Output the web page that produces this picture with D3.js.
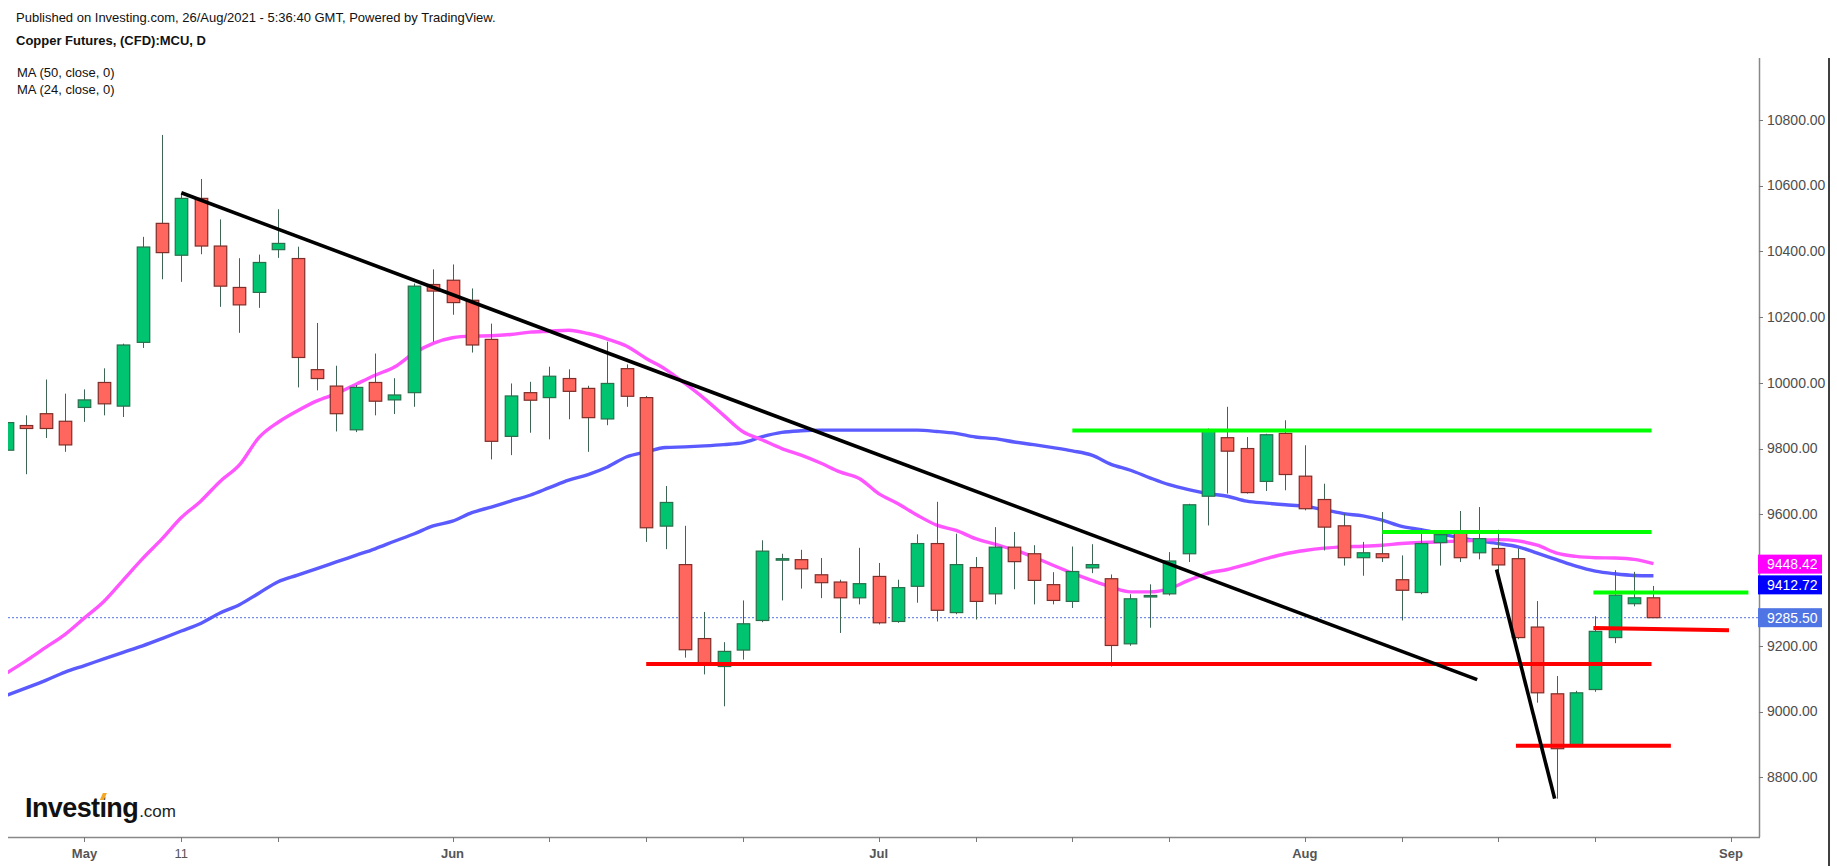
<!DOCTYPE html>
<html>
<head>
<meta charset="utf-8">
<script src="https://cdn.jsdelivr.net/npm/d3@7"></script>
<style>
  body { margin: 0; background: #fff; }
  text { font-family: "Liberation Sans", Arial, sans-serif; }
</style>
</head>
<body>
<div id="chart"></div>
<script>
// daily bars (LME days, 3 May / 31 May holidays skipped)
var dates = ["Apr27","Apr28","Apr29","Apr30","May4","May5","May6","May7","May10","May11",
  "May12","May13","May14","May17","May18","May19","May20","May21","May24","May25",
  "May26","May27","May28","Jun1","Jun2","Jun3","Jun4","Jun7","Jun8","Jun9",
  "Jun10","Jun11","Jun14","Jun15","Jun16","Jun17","Jun18","Jun21","Jun22","Jun23",
  "Jun24","Jun25","Jun28","Jun29","Jun30","Jul1","Jul2","Jul5","Jul6","Jul7",
  "Jul8","Jul9","Jul12","Jul13","Jul14","Jul15","Jul16","Jul19","Jul20","Jul21",
  "Jul22","Jul23","Jul26","Jul27","Jul28","Jul29","Jul30","Aug2","Aug3","Aug4",
  "Aug5","Aug6","Aug9","Aug10","Aug11","Aug12","Aug13","Aug16","Aug17","Aug18",
  "Aug19","Aug20","Aug23","Aug24","Aug25","Aug26"];

var opens = [9795,9870,9906,9883,9925,10001,9929,10123,10485,10388,
  10561,10416,10290,10275,10405,10378,10040,9990,9857,10001,
  9948,9970,10299,10312,10251,10132,9837,9970,9955,10013,
  9983,9890,10043,9955,9564,9447,9222,9137,9187,9277,
  9461,9462,9416,9394,9346,9411,9274,9381,9511,9301,
  9438,9358,9500,9480,9386,9335,9437,9404,9206,9350,
  9358,9480,9655,9833,9800,9700,9846,9716,9645,9565,
  9468,9480,9401,9362,9514,9544,9483,9496,9465,9257,
  9054,8897,9067,9225,9328,9346];

var highs = [9890,9901,10010,9967,9980,10044,10119,10444,10754,10576,
  10620,10497,10379,10390,10528,10414,10182,10052,9993,10089,
  10014,10302,10345,10360,10287,10180,9998,10003,10049,10041,
  9991,10125,10056,9960,9686,9565,9303,9211,9338,9521,
  9480,9492,9467,9401,9498,9452,9401,9539,9638,9541,
  9470,9561,9546,9506,9424,9502,9509,9417,9357,9387,
  9485,9632,9861,9927,9835,9845,9886,9810,9693,9602,
  9516,9607,9475,9556,9551,9610,9622,9553,9496,9336,
  9108,9063,9290,9430,9425,9382];

var lows = [9760,9722,9832,9790,9881,9901,9896,10106,10315,10307,
  10391,10231,10152,10228,10380,9986,9977,9852,9850,9901,
  9905,9927,10125,10207,10092,9767,9780,9848,9828,9889,
  9790,9871,9927,9516,9494,9164,9113,9016,9158,9272,
  9338,9374,9345,9239,9326,9265,9270,9331,9274,9296,
  9280,9326,9372,9326,9326,9315,9421,9137,9200,9255,
  9353,9455,9566,9663,9663,9671,9673,9612,9490,9444,
  9413,9455,9277,9357,9444,9455,9463,9426,9220,9027,
  8735,8892,9060,9208,9320,9285];

var closes = [9879,9861,9861,9811,9948,9936,10115,10413,10396,10561,
  10416,10294,10237,10366,10424,10077,10013,9906,9986,9944,
  9963,10294,10279,10244,10115,9822,9960,9947,10020,9974,
  9894,9998,9959,9559,9636,9188,9145,9183,9267,9488,
  9465,9434,9392,9346,9389,9270,9377,9511,9308,9447,
  9335,9500,9456,9399,9338,9426,9447,9201,9343,9353,
  9458,9629,9854,9792,9666,9842,9721,9617,9561,9468,
  9483,9468,9369,9511,9538,9468,9526,9446,9225,9057,
  8887,9057,9244,9354,9346,9285.5];

// moving averages
var ma50 = [9050,9072,9095,9120,9140,9160,9180,9200,9222,9245,
  9268,9300,9325,9360,9395,9415,9435,9455,9475,9495,
  9518,9540,9565,9579,9605,9622,9640,9658,9681,9704,
  9721,9744,9775,9790,9803,9805,9808,9812,9818,9836,
  9849,9854,9856,9856,9856,9856,9856,9856,9852,9846,
  9835,9830,9820,9812,9803,9793,9780,9752,9734,9711,
  9690,9675,9663,9655,9640,9634,9629,9624,9614,9602,
  9595,9582,9563,9553,9541,9528,9519,9511,9501,9482,
  9462,9442,9427,9419,9414,9413];

var ma24 = [9118,9155,9195,9235,9285,9335,9400,9465,9525,9590,
  9640,9700,9750,9833,9880,9915,9945,9967,9995,10023,
  10048,10090,10120,10137,10142,10143,10147,10154,10157,10160,
  10150,10133,10111,10074,10041,9998,9952,9901,9851,9826,
  9800,9780,9756,9729,9709,9663,9632,9597,9567,9551,
  9526,9509,9492,9470,9445,9421,9399,9379,9364,9364,
  9374,9399,9421,9432,9448,9465,9480,9490,9497,9501,
  9503,9506,9511,9514,9516,9519,9521,9523,9519,9506,
  9482,9472,9468,9467,9463,9450];

// hand drawn lines: [bar1, price1, bar2, price2]
var blackLines = [[9, 10578, 75.9, 9097], [76.9, 9432, 79.9, 8735]];
var greenLines = [[55, 9855, 84.9, 9855], [71, 9546, 84.9, 9546], [81.9, 9362, 89.9, 9362]];
var redLines = [[33, 9145, 84.9, 9145], [77.9, 8896, 85.9, 8896], [81.9, 9254, 88.9, 9247]];

// axis ticks
var priceTicks = [8800, 9000, 9200, 9400, 9600, 9800, 10000, 10200, 10400, 10600, 10800];
var timeTicks = [4, 9, 14, 23, 28, 33, 38, 45, 50, 55, 60, 67, 72, 77, 82, 89];
var timeLabels = {4: "May", 9: "11", 23: "Jun", 45: "Jul", 67: "Aug", 89: "Sep"};

var lastLabels = [
  {value: 9448.42, color: "#ff00ff", shift: 0},
  {value: 9412.72, color: "#0000ff", shift: 9},
  {value: 9285.50, color: "#4f74e3", shift: 0}
];

var svgWidth = 1837;
var svgHeight = 866;

var plot = { left: 8, right: 1759, top: 58, bottom: 837 };

var svg = d3.select("#chart")
  .append("svg")
  .attr("width", svgWidth)
  .attr("height", svgHeight)
  .style("display", "block");

svg.append("rect")
  .attr("width", svgWidth)
  .attr("height", svgHeight)
  .attr("fill", "#fff");

var xScale = d3.scaleLinear()
  .domain([0, 89])
  .range([7, 7 + 19.37 * 89]);

var yScale = d3.scaleLinear()
  .domain([8800, 10800])
  .range([777.3, 119.8]);

svg.append("clipPath")
  .attr("id", "plotClip")
  .append("rect")
  .attr("x", plot.left)
  .attr("y", plot.top)
  .attr("width", plot.right - plot.left)
  .attr("height", plot.bottom - plot.top);

var chartGroup = svg.append("g").attr("clip-path", "url(#plotClip)");

// current price dotted line
chartGroup.append("line")
  .attr("x1", plot.left)
  .attr("x2", plot.right)
  .attr("y1", yScale(closes[closes.length - 1]))
  .attr("y2", yScale(closes[closes.length - 1]))
  .attr("stroke", "#4f74e3")
  .attr("stroke-width", 1)
  .attr("stroke-dasharray", "2,2");

// moving averages
var maLine = d3.line()
  .x((d, i) => xScale(i))
  .y(d => yScale(d))
  .curve(d3.curveMonotoneX);

chartGroup.append("path")
  .attr("d", maLine(ma50))
  .attr("fill", "none")
  .attr("stroke", "#5a5aff")
  .attr("stroke-width", 3.4);

chartGroup.append("path")
  .attr("d", maLine(ma24))
  .attr("fill", "none")
  .attr("stroke", "#ff55ff")
  .attr("stroke-width", 3.4);

// candles
var bars = d3.range(dates.length);
var barW = 12.5;

chartGroup.selectAll(".wick")
  .data(bars)
  .enter()
  .append("line")
  .attr("class", "wick")
  .attr("x1", i => Math.round(xScale(i)) + 0.5)
  .attr("x2", i => Math.round(xScale(i)) + 0.5)
  .attr("y1", i => yScale(highs[i]))
  .attr("y2", i => yScale(lows[i]))
  .attr("stroke", "#3f6655")
  .attr("stroke-width", 1);

chartGroup.selectAll(".body")
  .data(bars)
  .enter()
  .append("rect")
  .attr("class", "body")
  .attr("x", i => Math.round(xScale(i)) + 0.5 - barW / 2)
  .attr("width", barW)
  .attr("y", i => yScale(Math.max(opens[i], closes[i])))
  .attr("height", i => Math.max(1.5, Math.abs(yScale(opens[i]) - yScale(closes[i]))))
  .attr("fill", i => closes[i] >= opens[i] ? "#00c46f" : "#ff675e")
  .attr("stroke", i => closes[i] >= opens[i] ? "#2a6e4c" : "#7e2d28")
  .attr("stroke-width", 1.2);

// drawings on top
function drawSegments(list, color, width) {
  chartGroup.selectAll(null)
    .data(list)
    .enter()
    .append("line")
    .attr("x1", d => xScale(d[0]))
    .attr("y1", d => yScale(d[1]))
    .attr("x2", d => xScale(d[2]))
    .attr("y2", d => yScale(d[3]))
    .attr("stroke", color)
    .attr("stroke-width", width);
}
drawSegments(greenLines, "#00ff00", 4);
drawSegments(redLines, "#ff0000", 4);
drawSegments(blackLines, "#000000", 3.6);

// price axis
svg.append("line")
  .attr("x1", plot.right + 0.5).attr("x2", plot.right + 0.5)
  .attr("y1", plot.top).attr("y2", plot.bottom)
  .attr("stroke", "#888").attr("stroke-width", 1.5);

var priceGroup = svg.append("g");
priceGroup.selectAll("line")
  .data(priceTicks)
  .enter()
  .append("line")
  .attr("x1", plot.right).attr("x2", plot.right + 4)
  .attr("y1", d => Math.round(yScale(d)) + 0.5)
  .attr("y2", d => Math.round(yScale(d)) + 0.5)
  .attr("stroke", "#777");

// tick labels hidden behind the last value boxes are left out
var boxCenters = lastLabels.map(lab => yScale(lab.value) + lab.shift);
var shownTicks = priceTicks.filter(d => boxCenters.every(c => Math.abs(yScale(d) - c) > 18));

priceGroup.selectAll("text")
  .data(shownTicks)
  .enter()
  .append("text")
  .attr("x", 1767)
  .attr("y", d => yScale(d))
  .attr("dy", "0.35em")
  .attr("font-size", 14)
  .attr("fill", "#4d4d4d")
  .text(d => d3.format(".2f")(d));

// last value boxes
lastLabels.forEach(function (lab, k) {
  var cy = boxCenters[k];
  svg.append("rect")
    .attr("x", 1758).attr("y", cy - 9.5)
    .attr("width", 64).attr("height", 19)
    .attr("fill", lab.color);
  svg.append("text")
    .attr("x", 1767).attr("y", cy)
    .attr("dy", "0.35em")
    .attr("font-size", 14)
    .attr("fill", "#fff")
    .text(d3.format(".2f")(lab.value));
});

// right border
svg.append("line")
  .attr("x1", 1829).attr("x2", 1829)
  .attr("y1", plot.top).attr("y2", svgHeight)
  .attr("stroke", "#000").attr("stroke-width", 1.5);

// time axis
svg.append("line")
  .attr("x1", plot.left).attr("x2", plot.right + 1)
  .attr("y1", plot.bottom + 0.5).attr("y2", plot.bottom + 0.5)
  .attr("stroke", "#888").attr("stroke-width", 1.5);

var timeGroup = svg.append("g");
timeGroup.selectAll("line")
  .data(timeTicks)
  .enter()
  .append("line")
  .attr("x1", i => Math.round(xScale(i)) + 0.5)
  .attr("x2", i => Math.round(xScale(i)) + 0.5)
  .attr("y1", plot.bottom).attr("y2", plot.bottom + 5)
  .attr("stroke", "#777");

timeGroup.selectAll("text")
  .data(timeTicks.filter(i => timeLabels[i]))
  .enter()
  .append("text")
  .attr("x", i => xScale(i))
  .attr("y", 858)
  .attr("text-anchor", "middle")
  .attr("font-size", 13)
  .attr("font-weight", i => timeLabels[i] === "11" ? "normal" : "bold")
  .attr("fill", "#555")
  .text(i => timeLabels[i]);

// header texts
svg.append("text")
  .attr("x", 16).attr("y", 22)
  .attr("font-size", 13).attr("fill", "#111")
  .text("Published on Investing.com, 26/Aug/2021 - 5:36:40 GMT, Powered by TradingView.");

svg.append("text")
  .attr("x", 16).attr("y", 45)
  .attr("font-size", 13).attr("font-weight", "bold").attr("fill", "#111")
  .text("Copper Futures, (CFD):MCU, D");

svg.append("text")
  .attr("x", 17).attr("y", 77)
  .attr("font-size", 13).attr("fill", "#111")
  .text("MA (50, close, 0)");

svg.append("text")
  .attr("x", 17).attr("y", 94)
  .attr("font-size", 13).attr("fill", "#111")
  .text("MA (24, close, 0)");

// logo
var logo = svg.append("text")
  .attr("x", 25).attr("y", 817);
logo.append("tspan")
  .attr("font-size", 27).attr("font-weight", "bold")
  .attr("letter-spacing", -0.6).attr("fill", "#111")
  .text("Investing");
logo.append("tspan")
  .attr("font-size", 17).attr("fill", "#222")
  .attr("dx", 1)
  .text(".com");

var dotBox = logo.node().getExtentOfChar(6);
var dx0 = dotBox.x + dotBox.width / 2;
svg.append("path")
  .attr("d", `M${dx0 - 3},${800} L${dx0 + 1},${800} L${dx0 + 4},${793} L${dx0},${793} Z`)
  .attr("fill", "#f5a623");
</script>
</body>
</html>
